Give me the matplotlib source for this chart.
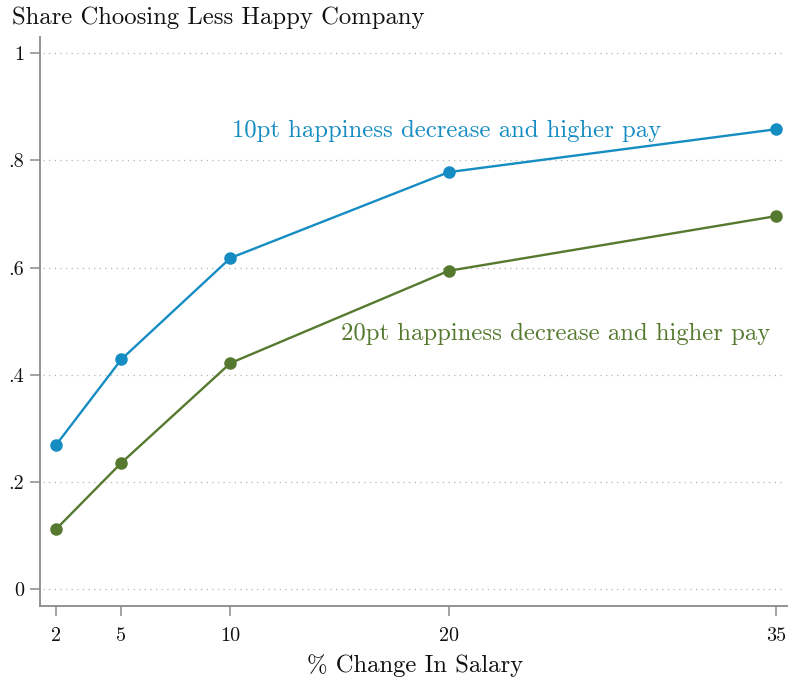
import matplotlib
matplotlib.use("Agg")
import matplotlib.pyplot as plt

salary_change = [2, 5, 10, 20, 35]
share_10pt = [0.269, 0.429, 0.618, 0.778, 0.858]
share_20pt = [0.112, 0.236, 0.422, 0.594, 0.696]
y_ticks = [0, 0.2, 0.4, 0.6, 0.8, 1.0]
y_tick_labels = ["0", ".2", ".4", ".6", ".8", "1"]
label_10 = "10pt happiness decrease and higher pay"
label_20 = "20pt happiness decrease and higher pay"

blue = "#158cc2"
green = "#55792e"
grey = "#8a8a8a"

plt.rcParams["font.family"] = ["cmr10", "DejaVu Serif"]
plt.rcParams["axes.formatter.use_mathtext"] = True

fig = plt.figure(figsize=(7.88, 6.81), dpi=100)
ax = fig.add_axes([40/788, 1 - 606/681, (788-40)/788, (606-37)/681])

ax.plot(salary_change, share_10pt, color=blue, lw=1.7, marker="o", ms=8, zorder=3)
ax.plot(salary_change, share_20pt, color=green, lw=1.7, marker="o", ms=8, zorder=3)

ax.set_xlim(1.27, 35.55)
ax.set_ylim(-0.031, 1.03)
ax.set_xticks(salary_change)
ax.set_xticklabels([str(v) for v in salary_change])
ax.set_yticks(y_ticks)
ax.set_yticklabels(y_tick_labels)

for t in y_ticks:
    ax.axhline(t, xmin=0.004, xmax=0.995, color="#b5b5b5", lw=0.9, ls=(0, (1, 3.5)), zorder=1)

for s in ["top", "right"]:
    ax.spines[s].set_visible(False)
for s in ["left", "bottom"]:
    ax.spines[s].set_color(grey)
    ax.spines[s].set_linewidth(1.3)

ax.tick_params(axis="both", colors=grey, length=7.5, width=1.1, labelsize=14.5, labelcolor="#111111")
ax.tick_params(axis="x", pad=8)
ax.tick_params(axis="y", pad=4)

ax.text(10.07, 0.855, label_10, color=blue, fontsize=17.8, ha="left", va="center")
ax.text(15.07, 0.477, label_20, color=green, fontsize=17.8, ha="left", va="center")

fig.text(12/788, 1 - 18/681, "Share Choosing Less Happy Company", fontsize=17.8,
         ha="left", va="center", color="#111111")
fig.text(415/788, 1 - 666/681, "% Change In Salary", fontsize=17.8,
         ha="center", va="center", color="#111111")

fig.savefig("out.png", dpi=100)
